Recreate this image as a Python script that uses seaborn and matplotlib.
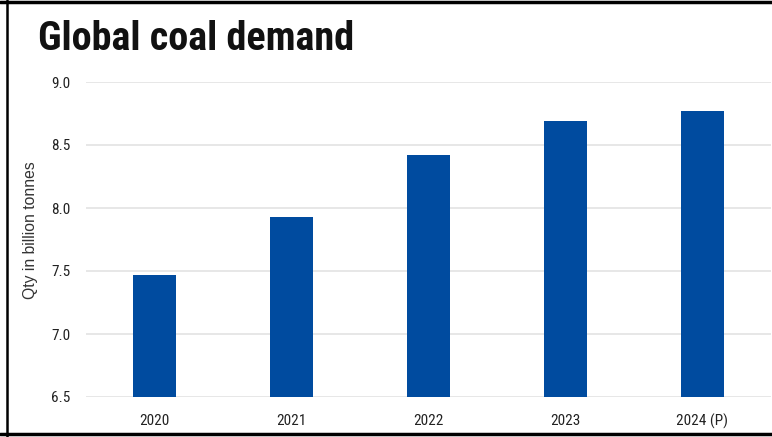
import matplotlib
matplotlib.use("Agg")
import matplotlib.pyplot as plt
import seaborn as sns
import pandas as pd
from matplotlib.lines import Line2D
from matplotlib import font_manager

years = ["2020", "2021", "2022", "2023", "2024 (P)"]
demand = [7.47, 7.93, 8.42, 8.69, 8.77]
yticks = [6.5, 7.0, 7.5, 8.0, 8.5, 9.0]

sns.set_theme(style="white")
names = {f.name for f in font_manager.fontManager.ttflist}
narrow = None
for cand in ["Roboto Condensed", "Liberation Sans Narrow", "Open Sans Condensed", "Roboto"]:
    if cand in names:
        narrow = cand
        break
if narrow is None:
    narrow = "Liberation Sans"
plt.rcParams["font.family"] = ["Liberation Sans", "DejaVu Sans"]
condensed = narrow != "Roboto"

df = pd.DataFrame({"year": years, "demand": demand})

fig = plt.figure(figsize=(7.72, 4.37), dpi=100)
ax = fig.add_axes([86 / 772, 1 - 397 / 437, (771 - 86) / 772, (397 - 82) / 437])
ax.set_axisbelow(True)
ax.yaxis.grid(True, color="#e3e3e3", linewidth=1.2)
ax.xaxis.grid(False)

sns.barplot(data=df, x="year", y="demand", color="#004b9f", saturation=1,
            width=0.32, ax=ax, edgecolor="none")
ax.set_ylim(6.5, 9.0)
ax.set_xlim(-0.5, 4.5)
ax.set_yticks(yticks)
ax.set_yticklabels([f"{v:.1f}" for v in yticks], fontsize=11, family=[narrow, "DejaVu Sans"], color="#222222")
ax.set_xticks(range(len(years)))
ax.set_xticklabels(years, fontsize=11, family=[narrow, "DejaVu Sans"], color="#222222")
ax.tick_params(axis="y", length=0, pad=11)
ax.tick_params(axis="x", length=0, pad=12)
for s in ax.spines.values():
    s.set_visible(False)
ax.set_xlabel("")
ax.set_ylabel("Qty in billion tonnes", fontsize=11.3, color="#333333",
              family=["Liberation Sans", "DejaVu Sans"])
ax.yaxis.set_label_coords(-0.070, 0.53)

fig.text(38 / 772, 1 - 50 / 437, "Global coal demand", fontsize=29 if condensed else 27, fontweight="bold",
         family=[narrow, "DejaVu Sans"], color="#111111", ha="left", va="baseline")

# frame lines: top, left, bottom
fig.add_artist(Line2D([0, 1], [1 - 1.5 / 437, 1 - 1.5 / 437], color="black", linewidth=2.5, transform=fig.transFigure))
fig.add_artist(Line2D([7 / 772, 7 / 772], [0, 1], color="black", linewidth=1.8, transform=fig.transFigure))
fig.add_artist(Line2D([0, 1], [1 - 433.5 / 437, 1 - 433.5 / 437], color="black", linewidth=2.5, transform=fig.transFigure))

fig.savefig("out.png", dpi=100)
